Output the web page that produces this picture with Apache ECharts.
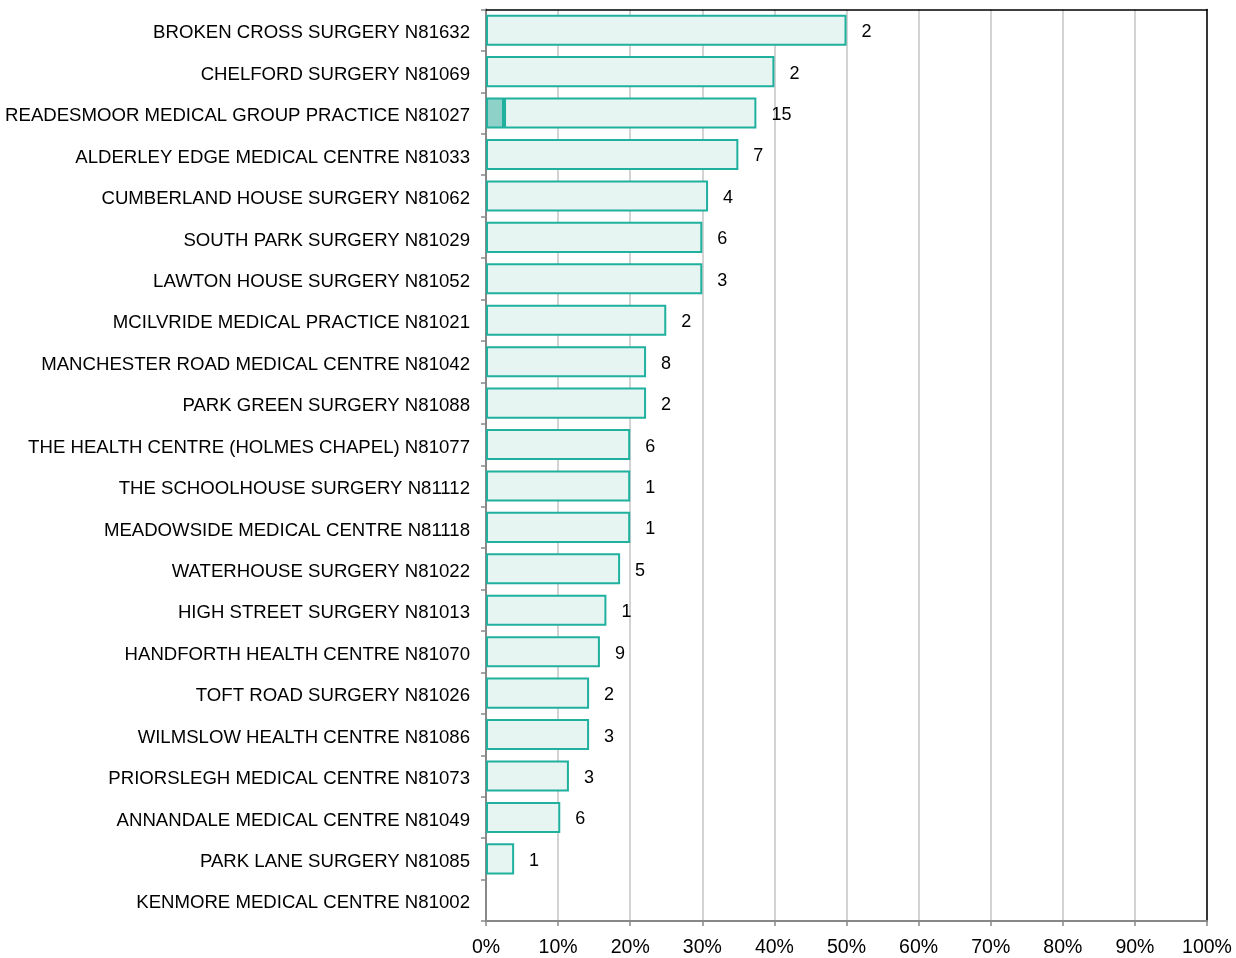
<!DOCTYPE html>
<html>
<head>
<meta charset="utf-8">
<script src="https://cdn.jsdelivr.net/npm/echarts@6/dist/echarts.min.js"></script>
<style>
html,body{margin:0;padding:0;background:#fff;}
#chart{width:1236px;height:958px;}
</style>
</head>
<body>
<div id="chart"></div>
<script>
const categories = [
  "BROKEN CROSS SURGERY N81632",
  "CHELFORD SURGERY N81069",
  "READESMOOR MEDICAL GROUP PRACTICE N81027",
  "ALDERLEY EDGE MEDICAL CENTRE N81033",
  "CUMBERLAND HOUSE SURGERY N81062",
  "SOUTH PARK SURGERY N81029",
  "LAWTON HOUSE SURGERY N81052",
  "MCILVRIDE MEDICAL PRACTICE N81021",
  "MANCHESTER ROAD MEDICAL CENTRE N81042",
  "PARK GREEN SURGERY N81088",
  "THE HEALTH CENTRE (HOLMES CHAPEL) N81077",
  "THE SCHOOLHOUSE SURGERY N81112",
  "MEADOWSIDE MEDICAL CENTRE N81118",
  "WATERHOUSE SURGERY N81022",
  "HIGH STREET SURGERY N81013",
  "HANDFORTH HEALTH CENTRE N81070",
  "TOFT ROAD SURGERY N81026",
  "WILMSLOW HEALTH CENTRE N81086",
  "PRIORSLEGH MEDICAL CENTRE N81073",
  "ANNANDALE MEDICAL CENTRE N81049",
  "PARK LANE SURGERY N81085",
  "KENMORE MEDICAL CENTRE N81002"
];
// total percentage per practice
const totalPct = [50, 40, 37.5, 35, 30.8, 30, 30, 25, 22.2, 22.2, 20, 20, 20, 18.6, 16.7, 15.8, 14.3, 14.3, 11.5, 10.3, 3.9, 0];
// darker highlighted portion (percentage)
const darkPct = [0, 0, 2.5, 0, 0, 0, 0, 0, 0, 0, 0, 0, 0, 0, 0, 0, 0, 0, 0, 0, 0, 0];
// count labels shown next to bars
const counts = [2, 2, 15, 7, 4, 6, 3, 2, 8, 2, 6, 1, 1, 5, 1, 9, 2, 3, 3, 6, 1, null];
const xTicks = [0, 10, 20, 30, 40, 50, 60, 70, 80, 90, 100];

const lightPct = totalPct.map((t, i) => {
  const v = +(t - darkPct[i]).toFixed(2);
  return v > 0 ? v : '-';
});
const darkData = darkPct.map(v => v > 0 ? v : '-');

const chart = echarts.init(document.getElementById('chart'), null, {renderer: 'canvas'});
const font = 'Arial, "Liberation Sans", sans-serif';
chart.setOption({
  animation: false,
  grid: {left: 486, right: 29, top: 9.5, bottom: 36},
  xAxis: [{
    type: 'value', min: xTicks[0], max: xTicks[xTicks.length - 1], interval: 10,
    axisLine: {show: true, onZero: false, lineStyle: {color: '#888', width: 2}},
    axisTick: {show: true, length: 5, lineStyle: {color: '#888', width: 1.5}},
    axisLabel: {formatter: '{value}%', color: '#000', fontSize: 19.5, fontFamily: font, margin: 17},
    splitLine: {show: true, lineStyle: {color: '#c4c4c4', width: 1.5}}
  }, {
    type: 'value', position: 'top', min: 0, max: 100,
    axisLine: {show: true, onZero: false, lineStyle: {color: '#000', width: 1.5}},
    axisTick: {show: false}, axisLabel: {show: false}, splitLine: {show: false}
  }],
  yAxis: [{
    type: 'category', data: categories, inverse: true,
    axisLine: {show: true, onZero: false, lineStyle: {color: '#888', width: 2}},
    axisTick: {show: true, length: 5, lineStyle: {color: '#888', width: 1.5}},
    axisLabel: {
      color: '#000', fontSize: 18.6, fontFamily: font, margin: 16,
      formatter: v => '{a|' + v + '}',
      rich: {a: {fontSize: 18.6, fontFamily: font, color: '#000', padding: [6, 0, 0, 0]}}
    },
    splitLine: {show: false}
  }, {
    type: 'category', data: categories, inverse: true, position: 'right',
    axisLine: {show: true, onZero: false, lineStyle: {color: '#000', width: 1.5}},
    axisTick: {show: false}, axisLabel: {show: false}, splitLine: {show: false}
  }],
  series: [
    {
      type: 'bar', stack: 'a', data: darkData, barCategoryGap: '25%',
      itemStyle: {color: '#8dd1c8', borderColor: '#1fb09e', borderWidth: 2},
      z: 3
    },
    {
      type: 'bar', stack: 'a', data: lightPct,
      itemStyle: {color: '#e6f4f2', borderColor: '#1fb09e', borderWidth: 2},
      label: {
        show: true, position: 'right', distance: 15, offset: [0, 2],
        color: '#000', fontSize: 18, fontFamily: font,
        formatter: p => counts[p.dataIndex] == null ? '' : String(counts[p.dataIndex])
      },
      z: 3
    }
  ]
});
</script>
</body>
</html>
